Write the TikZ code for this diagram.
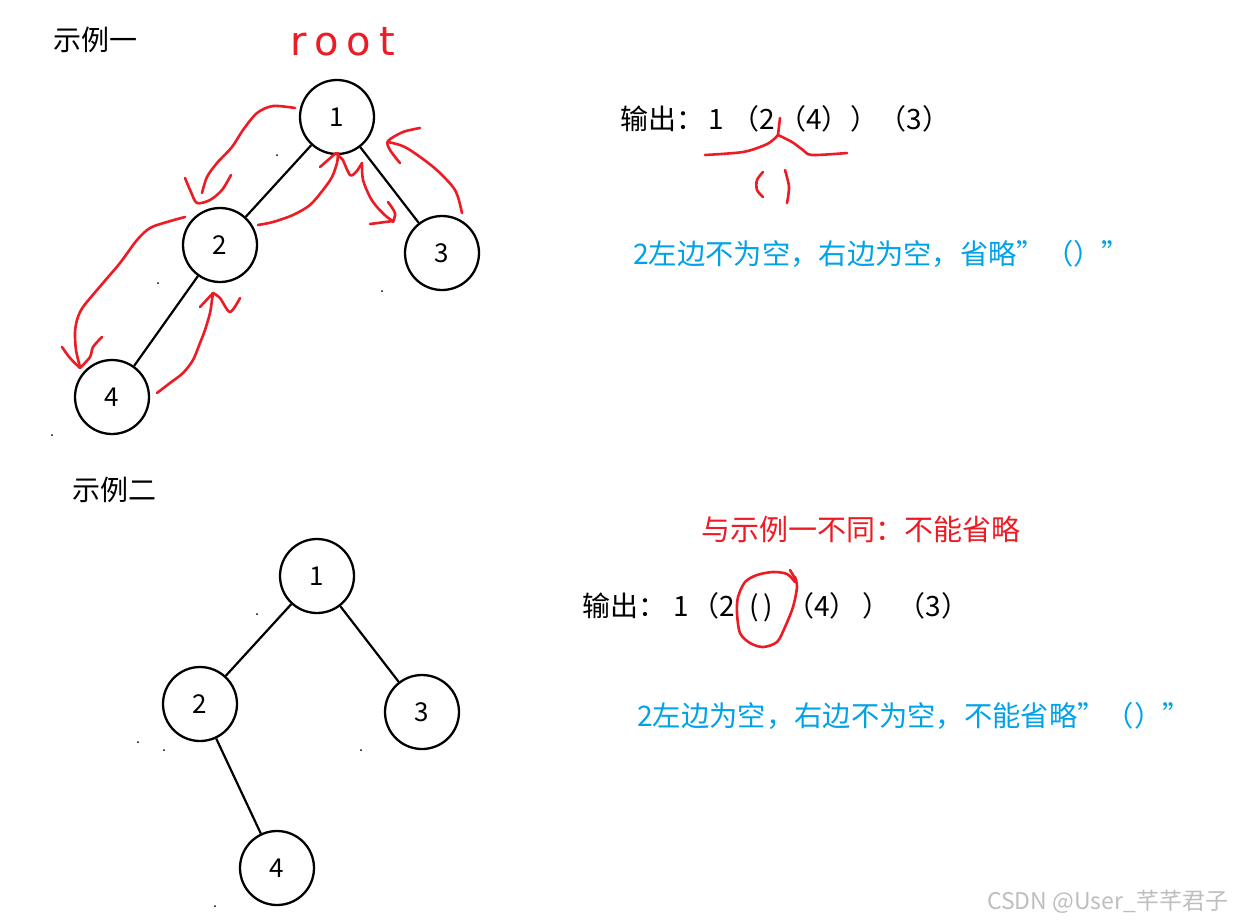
\documentclass[tikz,border=0pt]{standalone}
\usepackage{fontspec}
\setmainfont{Noto Sans CJK SC}
\newfontfamily\rootfont[LetterSpace=20]{DejaVu Sans}
\definecolor{inkred}{RGB}{237,28,36}
\definecolor{inkblue}{RGB}{0,162,232}
\definecolor{wmgray}{RGB}{190,190,190}
\tikzset{
  tnode/.style={circle,draw=black,line width=2.3pt,minimum size=74pt,inner sep=0pt,font=\fontsize{26pt}{27pt}\selectfont},
  tedge/.style={line width=2.2pt,draw=black},
  redink/.style={draw=inkred,line width=2.6pt,line cap=round,line join=round},
  lbl/.style={anchor=west,inner sep=0pt,font=\fontsize{28pt}{30pt}\selectfont},
  bluetxt/.style={anchor=west,inner sep=0pt,text=inkblue,font=\fontsize{28.3pt}{30pt}\selectfont},
  speck/.style={fill=black,circle,inner sep=0pt,minimum size=2pt}
}
\begin{document}
\begin{tikzpicture}[x=1pt,y=-1pt]
\useasboundingbox[fill=white] (0,0) rectangle (1233,922);
% ---------- Example 1 ----------
\node[lbl] (title1) at (53,40) {示例一};
\node[tnode] (a1) at (337,117) {1};
\node[tnode] (a2) at (220,245) {2};
\node[tnode] (a3) at (442,253) {3};
\node[tnode] (a4) at (112,397) {4};
\draw[tedge] (a1) -- (a2);
\draw[tedge] (a1) -- (a3);
\draw[tedge] (a2) -- (a4);
\node[anchor=center,inner sep=0pt,text=inkred,font=\rootfont\fontsize{40pt}{42pt}\selectfont] (root) at (343,42) {root};
% red traversal strokes
\draw[redink] plot[smooth] coordinates {(295,108) (273,106) (257,113) (243,130) (232,147) (217,163) (207,177) (202,193)};
\draw[redink] plot[smooth] coordinates {(185,178) (191,192) (197,203) (210,200) (222,190) (231,175)};
\draw[redink] plot[smooth] coordinates {(258,225) (273,222) (293,215) (310,205) (323,190) (332,177) (337,163) (338,153)};
\draw[redink] (320,167) -- (336,153) -- (343,160);
\draw[redink] plot[smooth] coordinates {(343,160) (350,175) (356,172) (362,163)};
\draw[redink] plot[smooth] coordinates {(362,165) (363,180) (370,197) (377,207) (387,217) (393,221)};
\draw[redink] plot[smooth] coordinates {(388,202) (395,213) (393,222)};
\draw[redink] (370,224) -- (393,221);
\draw[redink] plot[smooth] coordinates {(462,213) (458,197) (453,187) (440,173) (427,162) (410,150) (400,145) (388,142)};
\draw[redink] plot[smooth] coordinates {(420,128) (403,132) (388,141) (390,150) (400,163)};
\draw[redink] plot[smooth] coordinates {(185,217) (167,222) (150,228) (137,240) (120,263) (103,283) (83,307) (77,320) (75,333) (76,350) (80,367)};
\draw[redink] plot[smooth] coordinates {(62,347) (70,358) (80,368)};
\draw[redink] plot[smooth] coordinates {(102,337) (93,347) (90,357) (80,368)};
\draw[redink] plot[smooth] coordinates {(157,393) (170,383) (183,373) (193,360) (200,343) (205,330) (210,313) (212,300) (213,293)};
\draw[redink] (200,307) -- (213,293);
\draw[redink] plot[smooth] coordinates {(213,293) (220,298) (230,312) (240,298)};
% output 1
\node[lbl] (out1) at (620,119) {输出：\kern4pt 1\kern8pt （2\kern3pt （4）\kern1pt ）（3）};
\draw[redink] plot[smooth] coordinates {(705,155) (743,152) (765,145) (773,140) (778,135)};
\draw[redink] (780,118) -- (778,135);
\draw[redink] plot[smooth] coordinates {(778,135) (792,142) (803,150) (812,155) (847,153)};
\draw[redink] plot[smooth] coordinates {(763,172) (757,180) (757,190) (763,197)};
\draw[redink] plot[smooth] coordinates {(785,170) (789,187) (787,203)};
\node[bluetxt] (note1) at (633,254) {2左边不为空，右边为空，省略”（）”};
% specks
\node[speck] (s1) at (277,155) {};
\node[speck] (s2) at (158,283) {};
\node[speck] (s3) at (382,291) {};
\node[speck] (s4) at (52,435) {};
% ---------- Example 2 ----------
\node[lbl] (title2) at (72,490) {示例二};
\node[tnode] (b1) at (317,576) {1};
\node[tnode] (b2) at (200,704) {2};
\node[tnode] (b3) at (422,712) {3};
\node[tnode] (b4) at (277,868) {4};
\draw[tedge] (b1) -- (b2);
\draw[tedge] (b1) -- (b3);
\draw[tedge] (b2) -- (b4);
\node[speck] (s5) at (257,614) {};
\node[speck] (s6) at (138,742) {};
\node[speck] (s7) at (164,750) {};
\node[speck] (s8) at (361,750) {};
\node[speck] (s9) at (215,906) {};
\node[anchor=center,inner sep=0pt,text=inkred,font=\fontsize{29pt}{31pt}\selectfont] (diff) at (861,529) {与示例一不同：不能省略};
\node[lbl] (out2) at (582,607) {输出：\kern7pt 1\kern3pt （2\kern14pt (\kern5pt)\kern13pt （4）\kern5pt ）\kern7pt （3）};
\draw[redink] plot[smooth] coordinates {(795,582) (787,574) (773,572) (757,575) (745,582) (738,597) (737,613) (740,633) (750,643) (763,647) (777,642) (785,627) (793,607) (797,587) (795,577)};
\draw[redink] (790,570) -- (796,580);
\node[bluetxt] (note2) at (637,716) {2左边为空，右边不为空，不能省略”（）”};
% watermark
\node[anchor=west,inner sep=0pt,text=wmgray,font=\fontsize{23pt}{25pt}\selectfont] (wm) at (987,902) {CSDN @User\_芊芊君子};
\end{tikzpicture}
\end{document}
